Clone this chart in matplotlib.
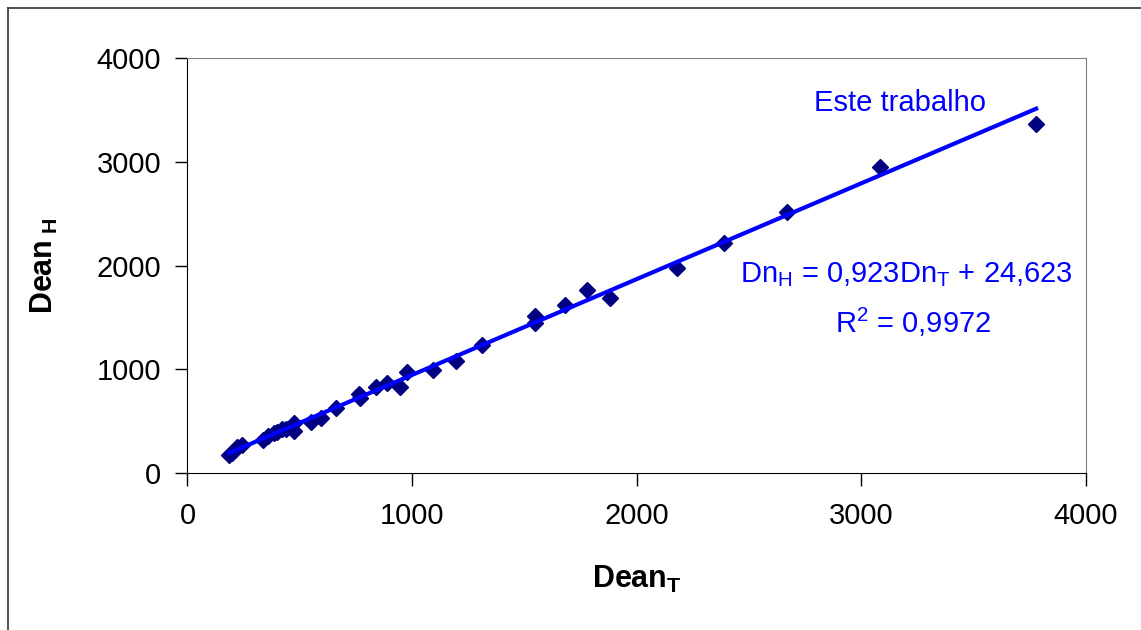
import matplotlib
matplotlib.use("Agg")
import matplotlib.pyplot as plt
from matplotlib.lines import Line2D
import numpy as np

plt.rcParams['font.family'] = ['Liberation Sans', 'DejaVu Sans']
plt.rcParams['mathtext.fontset'] = 'custom'
plt.rcParams['mathtext.rm'] = 'Liberation Sans'
plt.rcParams['mathtext.bf'] = 'Liberation Sans:bold'
plt.rcParams['mathtext.it'] = 'Liberation Sans'

dean_t = [185, 200, 222, 241, 337, 360, 385, 400, 422, 440, 474, 474, 549, 593,
          660, 764, 770, 838, 890, 946, 976, 1094, 1194, 1313, 1547, 1547, 1681,
          1777, 1881, 2178, 2389, 2671, 3083, 3778]
dean_h = [176, 200, 256, 270, 321, 360, 385, 400, 424, 430, 482, 410, 497, 530,
          626, 760, 730, 828, 873, 828, 973, 995, 1085, 1233, 1516, 1445, 1621,
          1766, 1686, 1975, 2216, 2520, 2954, 3362]
slope = 0.923
intercept = 24.623
ticks = [0, 1000, 2000, 3000, 4000]

fig = plt.figure(figsize=(11.41, 6.30), dpi=100)
ax = fig.add_axes([0.1643, 0.2487, 0.9518 - 0.1643, 0.9079 - 0.2487])

x_line = np.array([min(dean_t), max(dean_t)])
ax.plot(dean_t, dean_h, linestyle='none', marker='D', markersize=8,
        color='#000080', zorder=3)
ax.plot(x_line, slope * x_line + intercept, color='#0000FF', lw=3, zorder=4)

ax.set_xlim(0, 4000)
ax.set_ylim(0, 4000)
ax.set_xticks(ticks)
ax.set_yticks(ticks)
ax.tick_params(axis='both', direction='out', length=9, width=1, labelsize=21, color='black')
ax.tick_params(axis='x', pad=12)
ax.tick_params(axis='y', pad=10)
for s in ['top', 'right']:
    ax.spines[s].set_color('#808080')
for s in ['left', 'bottom']:
    ax.spines[s].set_color('black')

ax.set_xlabel(r'$\mathbf{Dean_T}$', fontsize=22, labelpad=24)
ax.set_ylabel(r'$\mathbf{Dean_{\ H}}$', fontsize=22, labelpad=26)

ax.text(3170, 3567, 'Este trabalho', color='#0000FF', fontsize=21, ha='center', va='center')
ax.text(3200, 1910, r'Dn$_\mathregular{H}$ = 0,923Dn$_\mathregular{T}$ + 24,623', color='#0000FF',
        fontsize=21, ha='center', va='center')
ax.text(3230, 1456, r'R$^\mathregular{2}$ = 0,9972', color='#0000FF', fontsize=21,
        ha='center', va='center')

# outer chart frame (top and left visible)
fig.add_artist(Line2D([8/1141, 1.0], [1 - 8/630, 1 - 8/630], color='#333333', lw=1.2))
fig.add_artist(Line2D([8/1141, 8/1141], [0, 1 - 8/630], color='#333333', lw=1.2))

fig.savefig('out.png', dpi=100)
